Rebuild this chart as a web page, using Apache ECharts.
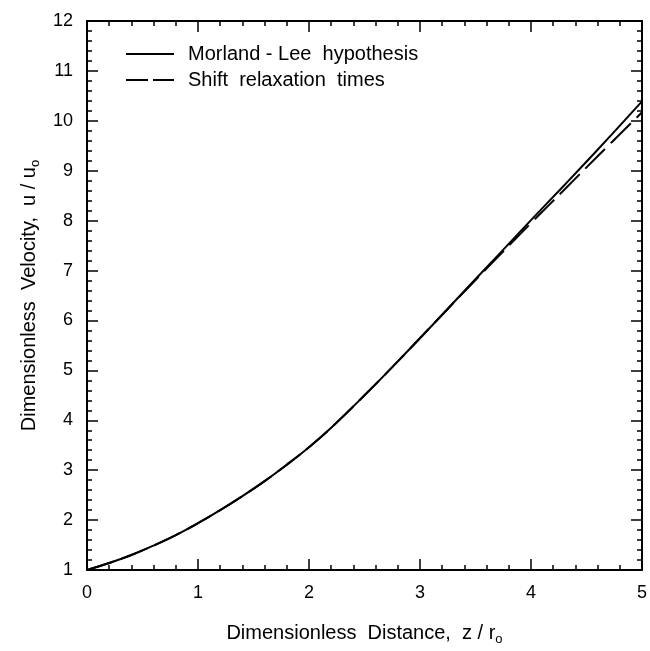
<!DOCTYPE html>
<html><head><meta charset="utf-8">
<script src="https://cdn.jsdelivr.net/npm/echarts@6/dist/echarts.min.js"></script>
<style>html,body{margin:0;padding:0;background:#fff}#c{width:650px;height:651px}</style>
</head><body><div id="c"></div>
<script>
var seriesNames = ['Morland - Lee  hypothesis', 'Shift  relaxation  times'];
var xSolid = [0, 0.2, 0.4, 0.6, 0.8, 1.0, 1.2, 1.4, 1.6, 1.8, 2.0, 2.2, 2.5, 2.8, 3.1, 3.4, 3.7, 4.0, 4.3, 4.6, 5.0];
var ySolid = [1.0, 1.14, 1.30, 1.49, 1.70, 1.94, 2.20, 2.48, 2.78, 3.11, 3.46, 3.85, 4.50, 5.18, 5.88, 6.59, 7.30, 8.01, 8.71, 9.42, 10.39];
var xDashed = [0, 0.2, 0.4, 0.6, 0.8, 1.0, 1.2, 1.4, 1.6, 1.8, 2.0, 2.2, 2.5, 2.8, 3.1, 3.4, 3.7, 4.0, 4.3, 4.6, 5.0];
var yDashed = [1.0, 1.14, 1.30, 1.49, 1.70, 1.94, 2.20, 2.48, 2.78, 3.11, 3.46, 3.85, 4.50, 5.18, 5.88, 6.58, 7.27, 7.95, 8.62, 9.29, 10.17];
var xTicks = [0, 1, 2, 3, 4, 5];
var yTicks = [1, 2, 3, 4, 5, 6, 7, 8, 9, 10, 11, 12];

function pairs(xs, ys){ return xs.map(function(x,i){ return [x, ys[i]]; }); }
var font = 'Liberation Sans, Arial, sans-serif';
var chart = echarts.init(document.getElementById('c'), null, {renderer:'canvas'});
function axisCommon(show){
  return {
    axisLine:{show:true, onZero:false, lineStyle:{color:'#000', width:2}},
    axisTick:{show:true, inside:true, length:11, lineStyle:{color:'#000', width:1.5}},
    minorTick:{show:true, splitNumber:5, length:5, lineStyle:{color:'#000', width:1.5}},
    splitLine:{show:false},
    axisLabel:{show:show, color:'#000', fontSize:18, fontFamily:font, margin:14}
  };
}
var nameRich = {a:{fontSize:20, fontFamily:font, color:'#000'}, s:{fontSize:13, fontFamily:font, color:'#000', padding:[13,0,0,0]}};
var xb = Object.assign({type:'value', position:'bottom', min:xTicks[0], max:xTicks[xTicks.length-1], interval:1,
  name:'{a|Dimensionless  Distance,  z / r}{s|o}', nameLocation:'middle', nameGap:50,
  nameTextStyle:{rich:nameRich}}, axisCommon(true));
var xt = Object.assign({type:'value', position:'top', min:xTicks[0], max:xTicks[xTicks.length-1], interval:1}, axisCommon(false));
var yl = Object.assign({type:'value', position:'left', min:yTicks[0], max:yTicks[yTicks.length-1], interval:1,
  name:'{a|Dimensionless  Velocity,  u / u}{s|o}', nameLocation:'middle', nameGap:30, nameRotate:90,
  nameTextStyle:{rich:nameRich}}, axisCommon(true));
var yr = Object.assign({type:'value', position:'right', min:yTicks[0], max:yTicks[yTicks.length-1], interval:1}, axisCommon(false));

chart.setOption({
  backgroundColor:'#fff',
  animation:false,
  grid:{left:87, right:6, top:21, bottom:74, containLabel:false},
  xAxis:[xb, xt],
  yAxis:[yl, yr],
  legend:{
    show:true, orient:'vertical', left:120, top:39, itemWidth:48, itemHeight:14, itemGap:6,
    textStyle:{fontSize:20, fontFamily:font, color:'#000', padding:[0,0,0,9]},
    itemStyle:{color:'rgba(0,0,0,0)', borderColor:'rgba(0,0,0,0)', borderWidth:0, opacity:0},
    data:[
      {name:seriesNames[0], lineStyle:{type:'solid'}},
      {name:seriesNames[1], lineStyle:{type:[22,5]}}
    ]
  },
  series:[
    {name:seriesNames[0], type:'line', xAxisIndex:0, yAxisIndex:0, data:pairs(xSolid, ySolid), smooth:0.4,
     symbol:'none', lineStyle:{color:'#000', width:2, type:'solid'}, itemStyle:{color:'#000'}},
    {name:seriesNames[1], type:'line', xAxisIndex:0, yAxisIndex:0, data:pairs(xDashed, yDashed), smooth:0.4,
     symbol:'none', lineStyle:{color:'#000', width:2, type:[28,8]}, itemStyle:{color:'#000'}}
  ]
});
</script></body></html>
